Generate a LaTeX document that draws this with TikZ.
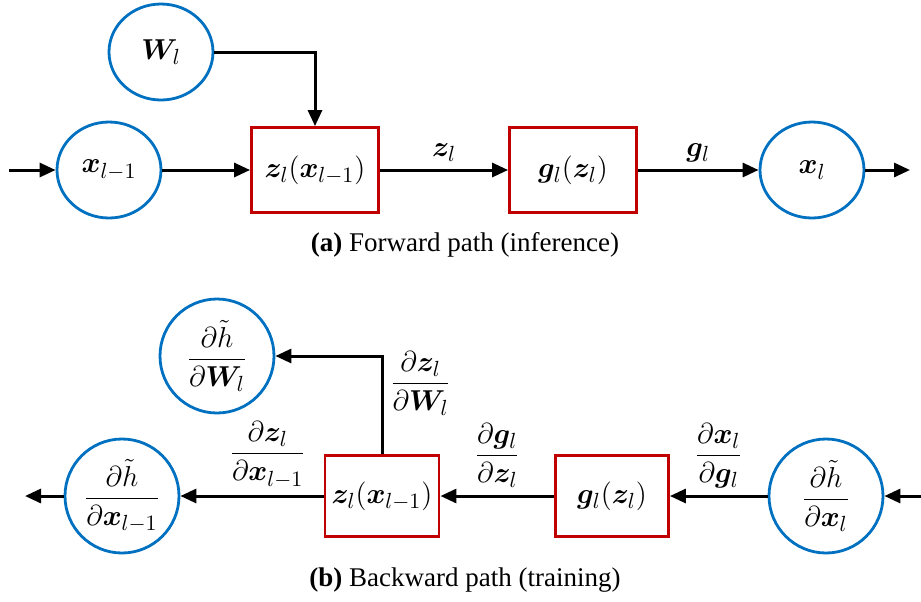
\documentclass[tikz,border=0pt]{standalone}
\usepackage{amsmath,bm}
\usepackage{fontspec}
\setmainfont{Liberation Serif}
\usetikzlibrary{arrows.meta,shapes.geometric}
\definecolor{unitblue}{RGB}{0,112,192}
\definecolor{blockred}{RGB}{192,0,0}
\begin{document}
\begin{tikzpicture}[x=0.5pt,y=-0.5pt,line width=1.5pt,>={Triangle[length=8pt,width=7pt]},
  font=\fontsize{15}{17}\selectfont,
  unit/.style={draw=unitblue,line width=1.4pt,ellipse,minimum width=52pt,minimum height=48pt,inner sep=0pt},
  grad/.style={draw=unitblue,line width=1.4pt,circle,minimum size=57pt,inner sep=0pt},
  block/.style={draw=blockred,line width=1.4pt,minimum width=63.5pt,minimum height=42.5pt},
  bblock/.style={draw=blockred,line width=1.4pt,minimum width=56.5pt,minimum height=40.5pt},
  caption/.style={font=\fontsize{13.5}{15}\selectfont}]
\useasboundingbox (0,0) rectangle (921,601);
\node[unit] (W) at (161,52) {$\bm{W}_l$};
\node[unit] (xin) at (109,170) {$\bm{x}_{l-1}$};
\node[block] (z) at (315,170) {$\bm{z}_l(\bm{x}_{l-1})$};
\node[block] (g) at (573,170) {$\bm{g}_l(\bm{z}_l)$};
\node[unit] (xout) at (812,170) {$\bm{x}_l$};
\coordinate (inA) at (9,170);
\coordinate (outA) at (910,170);
\draw[->] (inA) -- (xin);
\draw[->] (xin) -- (z);
\draw[->] (W) -| (z);
\draw[->] (z) -- node[above]{$\bm{z}_l$} (g);
\draw[->] (g) -- node[above]{$\bm{g}_l$} (xout);
\draw[->] (xout) -- (outA);
\node[caption] (capA) at (465,245) {\textbf{(a)} Forward path (inference)};
\node[grad] (dW) at (217,356) {$\dfrac{\partial\tilde{h}}{\partial\bm{W}_l}$};
\node[grad] (dxin) at (122,496) {$\dfrac{\partial\tilde{h}}{\partial\bm{x}_{l-1}}$};
\node[bblock] (bz) at (382,496) {$\bm{z}_l(\bm{x}_{l-1})$};
\node[bblock] (bg) at (612,496) {$\bm{g}_l(\bm{z}_l)$};
\node[grad] (dxout) at (826,496) {$\dfrac{\partial\tilde{h}}{\partial\bm{x}_l}$};
\coordinate (inB) at (921,496);
\coordinate (outB) at (25,496);
\draw[->] (inB) -- (dxout);
\draw[->] (dxout) -- node[above]{$\dfrac{\partial\bm{x}_l}{\partial\bm{g}_l}$} (bg);
\draw[->] (bg) -- node[above]{$\dfrac{\partial\bm{g}_l}{\partial\bm{z}_l}$} (bz);
\draw[->] (bz) -- node[above,pos=0.39]{$\dfrac{\partial\bm{z}_l}{\partial\bm{x}_{l-1}}$} (dxin);
\draw[->] (bz) |- node[right,pos=0.36]{$\dfrac{\partial\bm{z}_l}{\partial\bm{W}_l}$} (dW);
\draw[->] (dxin) -- (outB);
\node[caption] (capB) at (465,580) {\textbf{(b)} Backward path (training)};
\end{tikzpicture}
\end{document}
